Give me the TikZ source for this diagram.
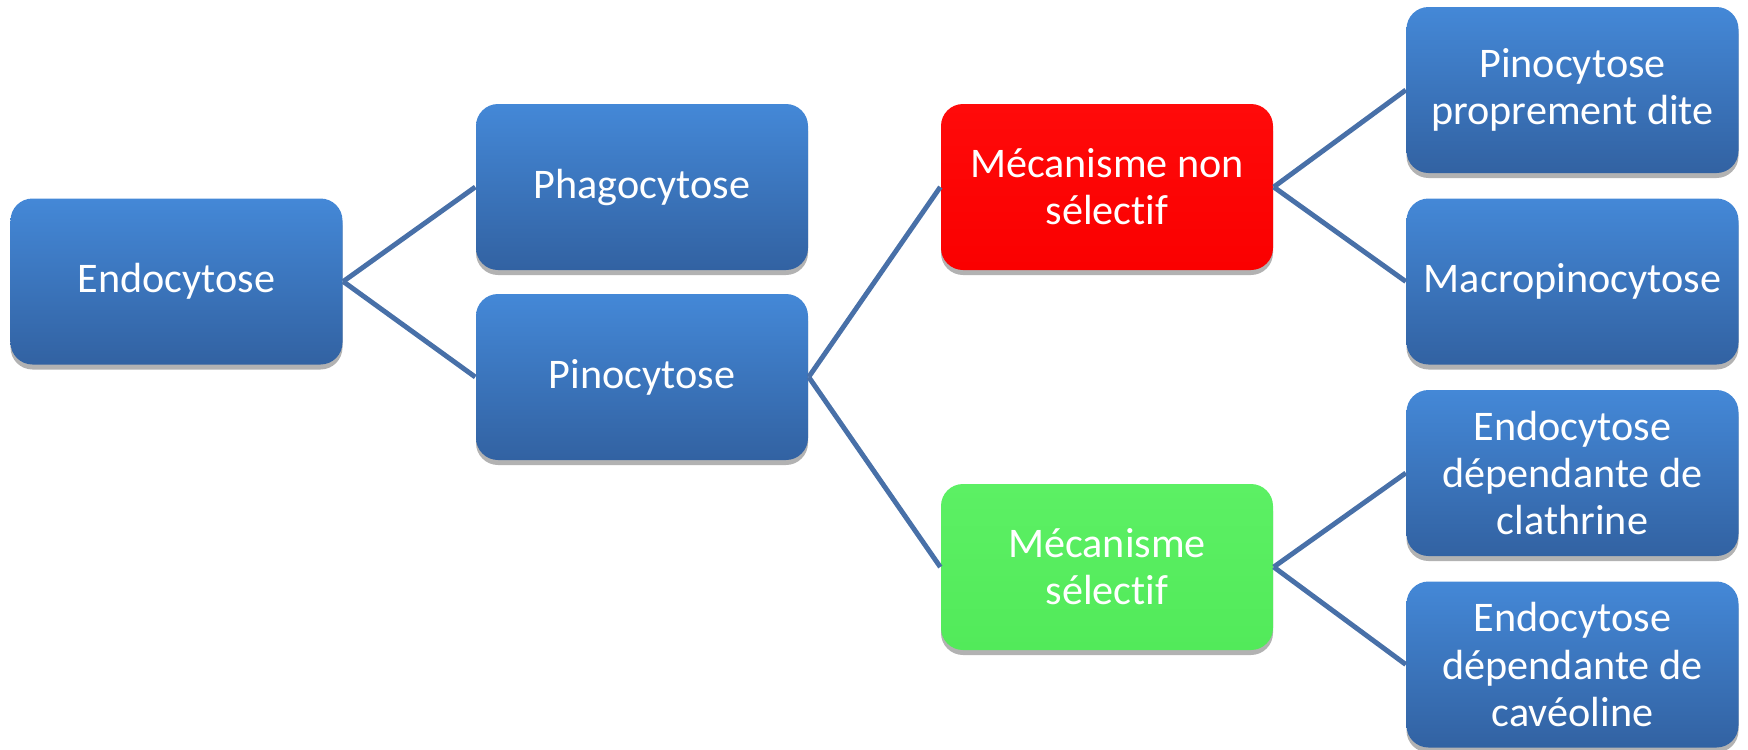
\documentclass[tikz,border=0pt]{standalone}
\usepackage{fontspec}
\setmainfont{Carlito}[Ligatures=NoCommon]
\usetikzlibrary{shadows}
\definecolor{boxtop}{RGB}{68,136,215}
\definecolor{boxbottom}{RGB}{50,98,162}
\definecolor{redtop}{RGB}{255,10,10}
\definecolor{redbottom}{RGB}{250,0,0}
\definecolor{greentop}{RGB}{92,240,100}
\definecolor{greenbottom}{RGB}{82,234,90}
\definecolor{linkblue}{RGB}{72,112,168}
\tikzset{
  cellbox/.style={rounded corners=0.22cm, minimum width=3.32cm, minimum height=1.66cm,
    align=center, text=white, font=\fontsize{12}{13.4}\selectfont,
    top color=boxtop, bottom color=boxbottom,
    drop shadow={shadow xshift=0pt, shadow yshift=-0.05cm, opacity=0.3, fill=black}},
  redbox/.style={cellbox, top color=redtop, bottom color=redbottom},
  greenbox/.style={cellbox, top color=greentop, bottom color=greenbottom},
  link/.style={draw=linkblue, line width=1.4pt}
}
\begin{document}
\begin{tikzpicture}
\useasboundingbox (0,0) rectangle (17.48,7.49);
\node[cellbox] (endo) at (1.765,4.675) {Endocytose};
\node[cellbox] (phago) at (6.42,5.62) {Phagocytose};
\node[cellbox] (pino) at (6.42,3.72) {Pinocytose};
\node[redbox] (nonsel) at (11.07,5.62) {Mécanisme non\\sélectif};
\node[greenbox] (sel) at (11.07,1.82) {Mécanisme\\sélectif};
\node[cellbox] (propre) at (15.725,6.59) {Pinocytose\\proprement dite};
\node[cellbox] (macro) at (15.725,4.675) {Macropinocytose};
\node[cellbox] (clath) at (15.725,2.76) {Endocytose\\dépendante de\\clathrine};
\node[cellbox] (caveo) at (15.725,0.845) {Endocytose\\dépendante de\\cavéoline};
\draw[link] (endo.east) -- (phago.west);
\draw[link] (endo.east) -- (pino.west);
\draw[link] (pino.east) -- (nonsel.west);
\draw[link] (pino.east) -- (sel.west);
\draw[link] (nonsel.east) -- (propre.west);
\draw[link] (nonsel.east) -- (macro.west);
\draw[link] (sel.east) -- (clath.west);
\draw[link] (sel.east) -- (caveo.west);
\end{tikzpicture}
\end{document}
